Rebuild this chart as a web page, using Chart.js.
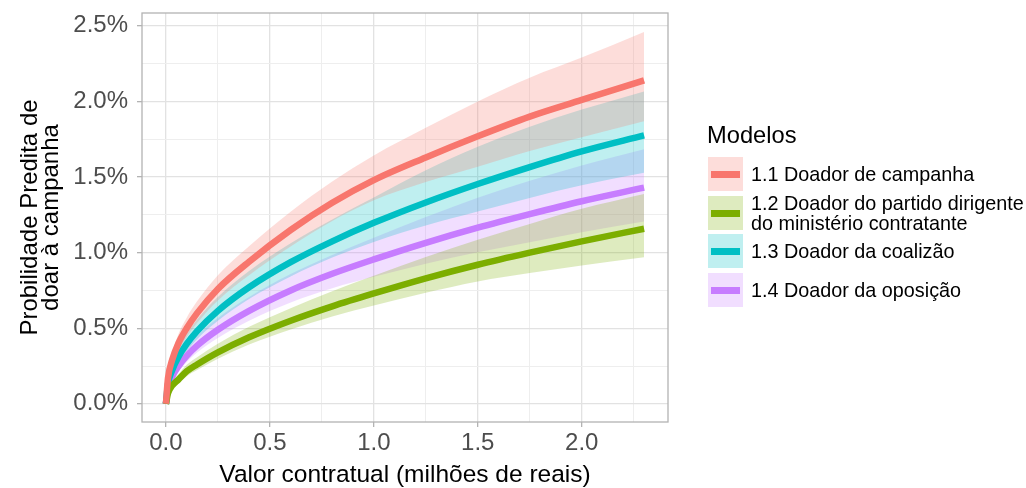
<!DOCTYPE html>
<html>
<head>
<meta charset="utf-8">
<script src="https://cdn.jsdelivr.net/npm/chart.js@4.4.1/dist/chart.umd.min.js"></script>
<style>
  body { margin: 0; background: #fff; font-family: "Liberation Sans", Arial, sans-serif; }
  #wrap { position: relative; width: 1026px; height: 488px; }
  #legend { position: absolute; left: 0; top: 0; width: 1026px; }
  .leg-title { position: absolute; left: 707px; top: 124px; font-size: 23.7px; line-height: 23.7px; color: #000; white-space: nowrap; }
  .leg-row { position: absolute; left: 708px; display: flex; align-items: center; height: 34px; width: 318px; }
  .leg-key { position: relative; flex: none; width: 35px; height: 34px; }
  .leg-key span { display: block; position: absolute; left: 3px; right: 3px; top: 14px; height: 6.5px; }
  .leg-label { margin-left: 8px; font-size: 19.8px; line-height: 20px; color: #000; white-space: pre; }
</style>
</head>
<body>
<div id="wrap">
  <canvas id="myChart" width="1026" height="488"></canvas>
  <div id="legend"></div>
</div>
<script>
// valor contratual (milhões de reais)
const xValues = [0, 0.01, 0.03, 0.06, 0.1, 0.15, 0.25, 0.4, 0.6, 0.8, 1.0, 1.25, 1.5, 1.75, 2.0, 2.3];

// probabilidade predita (%), linha e intervalo
const campanhaFit  = [0, 0.17, 0.29, 0.40, 0.50, 0.60, 0.76, 0.94, 1.15, 1.33, 1.48, 1.63, 1.77, 1.90, 2.01, 2.14];
const campanhaHigh = [0, 0.197, 0.334, 0.46, 0.57, 0.678, 0.851, 1.043, 1.271, 1.47, 1.643, 1.826, 2.0, 2.157, 2.29, 2.46];
const campanhaLow  = [0, 0.145, 0.252, 0.348, 0.44, 0.534, 0.684, 0.851, 1.041, 1.21, 1.347, 1.467, 1.568, 1.672, 1.763, 1.87];

const dirigenteFit  = [0, 0.07, 0.12, 0.16, 0.215, 0.26, 0.34, 0.44, 0.55, 0.645, 0.73, 0.83, 0.92, 1.0, 1.075, 1.158];
const dirigenteHigh = [0, 0.086, 0.146, 0.194, 0.258, 0.309, 0.398, 0.51, 0.633, 0.745, 0.847, 0.971, 1.086, 1.19, 1.29, 1.388];
const dirigenteLow  = [0, 0.057, 0.098, 0.133, 0.183, 0.224, 0.299, 0.392, 0.492, 0.577, 0.65, 0.735, 0.81, 0.865, 0.915, 0.969];

const coalizaoFit  = [0, 0.131, 0.222, 0.31, 0.396, 0.481, 0.615, 0.771, 0.937, 1.075, 1.197, 1.332, 1.454, 1.566, 1.67, 1.776];
const coalizaoHigh = [0, 0.157, 0.264, 0.366, 0.463, 0.558, 0.707, 0.879, 1.063, 1.22, 1.365, 1.545, 1.70, 1.832, 1.946, 2.066];
const coalizaoLow  = [0, 0.113, 0.193, 0.273, 0.348, 0.428, 0.55, 0.694, 0.843, 0.968, 1.071, 1.179, 1.272, 1.362, 1.445, 1.528];

const oposicaoFit  = [0, 0.105, 0.178, 0.248, 0.317, 0.385, 0.49, 0.615, 0.75, 0.86, 0.955, 1.065, 1.165, 1.255, 1.34, 1.43];
const oposicaoHigh = [0, 0.127, 0.214, 0.295, 0.374, 0.45, 0.568, 0.707, 0.859, 0.985, 1.098, 1.235, 1.363, 1.475, 1.577, 1.684];
const oposicaoLow  = [0, 0.088, 0.151, 0.213, 0.276, 0.339, 0.436, 0.55, 0.671, 0.765, 0.84, 0.927, 1.002, 1.069, 1.135, 1.206];

const seriesNames = [
  '1.1 Doador de campanha',
  '1.2 Doador do partido dirigente\ndo ministério contratante',
  '1.3 Doador da coalizão',
  '1.4 Doador da oposição'
];
const seriesColors = ['#F8766D', '#7CAE00', '#00BFC4', '#C77CFF'];
const ribbonColors = ['rgba(248,118,109,0.25)', 'rgba(124,174,0,0.25)', 'rgba(0,191,196,0.25)', 'rgba(199,124,255,0.25)'];

const xTicks = [0, 0.25, 0.5, 0.75, 1.0, 1.25, 1.5, 1.75, 2.0, 2.25];
const xTickLabels = ['0.0', '', '0.5', '', '1.0', '', '1.5', '', '2.0', ''];
const yTicks = [0, 0.25, 0.5, 0.75, 1.0, 1.25, 1.5, 1.75, 2.0, 2.25, 2.5];
const yTickLabels = ['0.0%', '', '0.5%', '', '1.0%', '', '1.5%', '', '2.0%', '', '2.5%'];

const fits = [campanhaFit, dirigenteFit, coalizaoFit, oposicaoFit];
const highs = [campanhaHigh, dirigenteHigh, coalizaoHigh, oposicaoHigh];
const lows = [campanhaLow, dirigenteLow, coalizaoLow, oposicaoLow];

function toPoints(arr) {
  return arr.map((v, i) => ({ x: xValues[i], y: v }));
}

const datasets = [];
// ribbons first (filled from upper to lower)
for (let i = 0; i < 4; i++) {
  datasets.push({
    data: toPoints(highs[i]), fill: '+1', backgroundColor: ribbonColors[i],
    borderWidth: 0, pointRadius: 0, order: 2, cubicInterpolationMode: 'monotone'
  });
  datasets.push({
    data: toPoints(lows[i]), fill: false, borderWidth: 0,
    pointRadius: 0, order: 2, cubicInterpolationMode: 'monotone'
  });
}
// then the lines on top
for (let i = 0; i < 4; i++) {
  datasets.push({
    label: seriesNames[i], data: toPoints(fits[i]), fill: false,
    borderColor: seriesColors[i], borderWidth: 6.5, pointRadius: 0,
    order: 1, cubicInterpolationMode: 'monotone'
  });
}

const FONT = '"Liberation Sans", Arial, sans-serif';
const isMajor = ctx => ctx.index % 2 === 0;

// panel border like ggplot theme_light
const panelBorder = {
  id: 'panelBorder',
  afterDraw(chart) {
    const a = chart.chartArea;
    const c = chart.ctx;
    c.save();
    c.strokeStyle = '#B3B3B3';
    c.lineWidth = 1.3;
    c.strokeRect(a.left, a.top, a.right - a.left, a.bottom - a.top);
    c.restore();
  }
};

new Chart(document.getElementById('myChart').getContext('2d'), {
  type: 'line',
  data: { datasets: datasets },
  options: {
    responsive: false,
    animation: false,
    layout: { padding: { top: 13, right: 358, left: 0, bottom: 0 } },
    plugins: { legend: { display: false }, tooltip: { enabled: false } },
    scales: {
      x: {
        type: 'linear', min: -0.115, max: 2.415,
        afterBuildTicks: s => { s.ticks = xTicks.map(v => ({ value: v })); },
        afterFit: s => { s.height = 66; s.paddingLeft = 0; s.paddingRight = 0; },
        border: { display: false },
        grid: {
          color: ctx => isMajor(ctx) ? '#E2E2E2' : '#EEEEEE',
          lineWidth: ctx => isMajor(ctx) ? 1.3 : 1,
          tickColor: ctx => isMajor(ctx) ? '#B3B3B3' : 'rgba(0,0,0,0)',
          tickLength: 5
        },
        ticks: {
          autoSkip: false, maxRotation: 0, padding: 4, color: '#4D4D4D',
          font: { family: FONT, size: 24, lineHeight: 1 },
          callback: (v, i) => xTickLabels[i]
        },
        title: {
          display: true, text: 'Valor contratual (milhões de reais)', color: '#000',
          font: { family: FONT, size: 24.5, lineHeight: 1 }, padding: { top: 0, bottom: 1 }
        }
      },
      y: {
        type: 'linear', min: -0.12, max: 2.585,
        afterBuildTicks: s => { s.ticks = yTicks.map(v => ({ value: v })); },
        afterFit: s => { s.width = 142; s.paddingTop = 0; s.paddingBottom = 0; },
        border: { display: false },
        grid: {
          color: ctx => isMajor(ctx) ? '#E2E2E2' : '#EEEEEE',
          lineWidth: ctx => isMajor(ctx) ? 1.3 : 1,
          tickColor: ctx => isMajor(ctx) ? '#B3B3B3' : 'rgba(0,0,0,0)',
          tickLength: 5
        },
        ticks: {
          autoSkip: false, padding: 9, color: '#4D4D4D',
          font: { family: FONT, size: 24, lineHeight: 1 },
          callback: (v, i) => yTickLabels[i]
        },
        title: {
          display: true, text: ['Probilidade Predita de', 'doar à campanha'], color: '#000',
          font: { family: FONT, size: 24, lineHeight: 0.88 }, padding: { top: 20, bottom: 0 }
        }
      }
    }
  },
  plugins: [panelBorder]
});

// legend (ggplot style keys: ribbon fill + line)
const legend = document.getElementById('legend');
const title = document.createElement('div');
title.className = 'leg-title';
title.textContent = 'Modelos';
legend.appendChild(title);
const keyTops = [157, 196, 234, 273];
seriesNames.forEach((name, i) => {
  const row = document.createElement('div');
  row.className = 'leg-row';
  row.style.top = keyTops[i] + 'px';
  const key = document.createElement('div');
  key.className = 'leg-key';
  key.style.background = ribbonColors[i];
  const bar = document.createElement('span');
  bar.style.background = seriesColors[i];
  key.appendChild(bar);
  const label = document.createElement('div');
  label.className = 'leg-label';
  label.textContent = name;
  row.appendChild(key);
  row.appendChild(label);
  legend.appendChild(row);
});
</script>
</body>
</html>
